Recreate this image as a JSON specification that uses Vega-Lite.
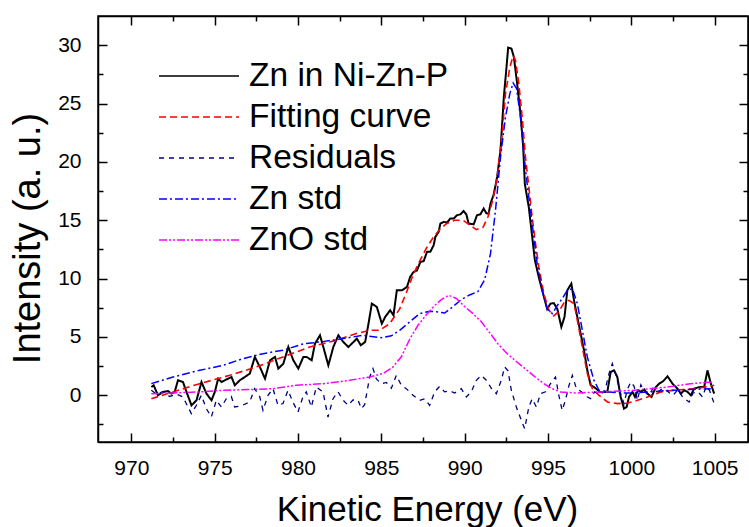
{
  "$schema": "https://vega.github.io/schema/vega-lite/v6.json",
  "width": 650,
  "height": 426,
  "autosize": {"type": "none"},
  "padding": {"left": 98, "top": 16, "right": 1, "bottom": 85},
  "background": "white",
  "config": {
    "view": {"stroke": "black", "strokeWidth": 1.5},
    "font": "Liberation Sans",
    "axis": {"grid": false, "domainColor": "black", "domainWidth": 1.5, "tickColor": "black", "tickWidth": 1.5, "labelColor": "black", "titleColor": "black", "titleFontWeight": "normal", "labelFont": "Liberation Sans", "titleFont": "Liberation Sans", "labelFlush": false, "labelOverlap": false}
  },
  "datasets": {
    "spec": [
      {"s":"exp","E":971.20,"I":0.71},{"s":"exp","E":971.34,"I":0.86},{"s":"exp","E":971.60,"I":0.0},{"s":"exp","E":971.90,"I":0.29},{"s":"exp","E":972.20,"I":0.37},{"s":"exp","E":972.40,"I":0.14},{"s":"exp","E":972.60,"I":0.29},{"s":"exp","E":972.80,"I":1.29},{"s":"exp","E":973.10,"I":1.14},{"s":"exp","E":973.31,"I":0.29},{"s":"exp","E":973.61,"I":-0.86},{"s":"exp","E":973.91,"I":-0.43},{"s":"exp","E":974.21,"I":1.14},{"s":"exp","E":974.51,"I":0.14},{"s":"exp","E":974.81,"I":-0.43},{"s":"exp","E":975.01,"I":0.29},{"s":"exp","E":975.21,"I":1.43},{"s":"exp","E":975.41,"I":1.14},{"s":"exp","E":975.81,"I":1.43},{"s":"exp","E":976.01,"I":1.57},{"s":"exp","E":976.21,"I":0.86},{"s":"exp","E":976.51,"I":1.29},{"s":"exp","E":976.81,"I":1.57},{"s":"exp","E":977.11,"I":1.86},{"s":"exp","E":977.41,"I":3.29},{"s":"exp","E":977.71,"I":2.43},{"s":"exp","E":978.02,"I":1.43},{"s":"exp","E":978.32,"I":3.0},{"s":"exp","E":978.62,"I":3.29},{"s":"exp","E":978.82,"I":2.29},{"s":"exp","E":979.12,"I":2.71},{"s":"exp","E":979.42,"I":4.14},{"s":"exp","E":979.72,"I":3.0},{"s":"exp","E":980.02,"I":2.29},{"s":"exp","E":980.32,"I":3.29},{"s":"exp","E":980.52,"I":3.29},{"s":"exp","E":980.82,"I":3.0},{"s":"exp","E":981.02,"I":4.43},{"s":"exp","E":981.32,"I":5.14},{"s":"exp","E":981.52,"I":4.14},{"s":"exp","E":981.82,"I":2.57},{"s":"exp","E":982.12,"I":4.14},{"s":"exp","E":982.42,"I":5.14},{"s":"exp","E":982.72,"I":4.57},{"s":"exp","E":983.02,"I":4.14},{"s":"exp","E":983.33,"I":4.57},{"s":"exp","E":983.53,"I":4.86},{"s":"exp","E":983.77,"I":4.29},{"s":"exp","E":984.03,"I":4.57},{"s":"exp","E":984.23,"I":6.14},{"s":"exp","E":984.43,"I":7.86},{"s":"exp","E":984.73,"I":7.57},{"s":"exp","E":985.03,"I":6.14},{"s":"exp","E":985.23,"I":6.71},{"s":"exp","E":985.53,"I":7.29},{"s":"exp","E":985.73,"I":6.86},{"s":"exp","E":985.93,"I":9.0},{"s":"exp","E":986.24,"I":9.0},{"s":"exp","E":986.54,"I":9.29},{"s":"exp","E":986.73,"I":10.14},{"s":"exp","E":986.93,"I":10.57},{"s":"exp","E":987.14,"I":10.7},{"s":"exp","E":987.34,"I":11.43},{"s":"exp","E":987.54,"I":11.5},{"s":"exp","E":987.74,"I":12.29},{"s":"exp","E":987.94,"I":12.3},{"s":"exp","E":988.14,"I":12.86},{"s":"exp","E":988.24,"I":13.57},{"s":"exp","E":988.44,"I":14.0},{"s":"exp","E":988.54,"I":14.71},{"s":"exp","E":988.74,"I":14.86},{"s":"exp","E":988.94,"I":14.8},{"s":"exp","E":989.14,"I":15.14},{"s":"exp","E":989.34,"I":15.14},{"s":"exp","E":989.54,"I":15.43},{"s":"exp","E":989.74,"I":15.5},{"s":"exp","E":989.94,"I":15.79},{"s":"exp","E":990.10,"I":15.5},{"s":"exp","E":990.24,"I":14.71},{"s":"exp","E":990.54,"I":14.65},{"s":"exp","E":990.74,"I":15.43},{"s":"exp","E":990.94,"I":15.5},{"s":"exp","E":991.14,"I":16.0},{"s":"exp","E":991.30,"I":15.6},{"s":"exp","E":991.44,"I":15.57},{"s":"exp","E":991.55,"I":16.43},{"s":"exp","E":991.74,"I":17.2},{"s":"exp","E":991.95,"I":18.71},{"s":"exp","E":992.15,"I":21.0},{"s":"exp","E":992.35,"I":25.56},{"s":"exp","E":992.51,"I":28.1},{"s":"exp","E":992.61,"I":29.8},{"s":"exp","E":992.81,"I":29.7},{"s":"exp","E":992.95,"I":29.0},{"s":"exp","E":993.15,"I":26.7},{"s":"exp","E":993.35,"I":24.1},{"s":"exp","E":993.51,"I":21.3},{"s":"exp","E":993.61,"I":18.1},{"s":"exp","E":993.85,"I":16.1},{"s":"exp","E":994.05,"I":13.6},{"s":"exp","E":994.21,"I":11.6},{"s":"exp","E":994.45,"I":10.1},{"s":"exp","E":994.65,"I":9.0},{"s":"exp","E":994.95,"I":7.4},{"s":"exp","E":995.15,"I":7.86},{"s":"exp","E":995.35,"I":7.9},{"s":"exp","E":995.56,"I":7.4},{"s":"exp","E":995.80,"I":5.86},{"s":"exp","E":995.99,"I":6.71},{"s":"exp","E":996.16,"I":9.0},{"s":"exp","E":996.40,"I":9.57},{"s":"exp","E":996.56,"I":8.14},{"s":"exp","E":996.76,"I":6.71},{"s":"exp","E":996.96,"I":5.29},{"s":"exp","E":997.16,"I":3.86},{"s":"exp","E":997.36,"I":2.14},{"s":"exp","E":997.56,"I":0.86},{"s":"exp","E":997.76,"I":0.71},{"s":"exp","E":997.95,"I":0.5},{"s":"exp","E":998.12,"I":0.29},{"s":"exp","E":998.36,"I":0.29},{"s":"exp","E":998.56,"I":0.3},{"s":"exp","E":998.76,"I":2.0},{"s":"exp","E":998.96,"I":2.14},{"s":"exp","E":999.16,"I":1.57},{"s":"exp","E":999.36,"I":-0.14},{"s":"exp","E":999.56,"I":-1.14},{"s":"exp","E":999.72,"I":-1.0},{"s":"exp","E":999.86,"I":-0.14},{"s":"exp","E":1000.07,"I":0.29},{"s":"exp","E":1000.22,"I":-0.14},{"s":"exp","E":1000.40,"I":0.43},{"s":"exp","E":1000.57,"I":0.3},{"s":"exp","E":1000.77,"I":0.5},{"s":"exp","E":1000.97,"I":0.14},{"s":"exp","E":1001.21,"I":-0.14},{"s":"exp","E":1001.47,"I":0.71},{"s":"exp","E":1001.67,"I":1.0},{"s":"exp","E":1001.90,"I":1.2},{"s":"exp","E":1002.17,"I":1.63},{"s":"exp","E":1002.47,"I":1.0},{"s":"exp","E":1002.77,"I":0.57},{"s":"exp","E":1002.97,"I":0.14},{"s":"exp","E":1003.17,"I":0.43},{"s":"exp","E":1003.37,"I":0.3},{"s":"exp","E":1003.57,"I":0.0},{"s":"exp","E":1003.77,"I":0.57},{"s":"exp","E":1004.07,"I":0.7},{"s":"exp","E":1004.37,"I":0.71},{"s":"exp","E":1004.57,"I":2.14},{"s":"exp","E":1004.77,"I":1.0},{"s":"exp","E":1004.97,"I":0.14},

      {"s":"fit","E":971.2,"I":-0.29},{"s":"fit","E":972.5,"I":0.29},{"s":"fit","E":974.1,"I":1.0},{"s":"fit","E":975.9,"I":1.71},{"s":"fit","E":977.5,"I":2.43},{"s":"fit","E":979.1,"I":3.29},{"s":"fit","E":980.7,"I":4.14},{"s":"fit","E":982.3,"I":4.71},{"s":"fit","E":983.5,"I":5.29},{"s":"fit","E":984.3,"I":5.57},{"s":"fit","E":984.9,"I":5.57},{"s":"fit","E":985.5,"I":6.14},{"s":"fit","E":986.1,"I":7.4},{"s":"fit","E":986.5,"I":8.8},{"s":"fit","E":986.9,"I":10.3},{"s":"fit","E":987.3,"I":11.5},{"s":"fit","E":987.7,"I":12.6},{"s":"fit","E":988.1,"I":13.5},{"s":"fit","E":988.5,"I":14.2},{"s":"fit","E":988.9,"I":14.7},{"s":"fit","E":989.4,"I":15.0},{"s":"fit","E":989.9,"I":15.0},{"s":"fit","E":990.3,"I":14.6},{"s":"fit","E":990.7,"I":14.2},{"s":"fit","E":991.1,"I":14.4},{"s":"fit","E":991.4,"I":15.3},{"s":"fit","E":991.7,"I":16.8},{"s":"fit","E":991.95,"I":18.7},{"s":"fit","E":992.25,"I":22.4},{"s":"fit","E":992.45,"I":25.85},{"s":"fit","E":992.71,"I":28.1},{"s":"fit","E":992.91,"I":29.1},{"s":"fit","E":993.05,"I":28.7},{"s":"fit","E":993.25,"I":26.7},{"s":"fit","E":993.45,"I":23.85},{"s":"fit","E":993.65,"I":20.4},{"s":"fit","E":993.85,"I":17.85},{"s":"fit","E":994.05,"I":15.28},{"s":"fit","E":994.25,"I":13.0},{"s":"fit","E":994.45,"I":11.0},{"s":"fit","E":994.75,"I":8.71},{"s":"fit","E":995.05,"I":7.3},{"s":"fit","E":995.35,"I":6.8},{"s":"fit","E":995.65,"I":7.2},{"s":"fit","E":995.95,"I":7.9},{"s":"fit","E":996.25,"I":8.14},{"s":"fit","E":996.56,"I":7.86},{"s":"fit","E":996.76,"I":6.43},{"s":"fit","E":997.06,"I":4.14},{"s":"fit","E":997.36,"I":1.86},{"s":"fit","E":997.66,"I":0.57},{"s":"fit","E":998.06,"I":0.0},{"s":"fit","E":998.56,"I":-0.57},{"s":"fit","E":999.16,"I":-0.71},{"s":"fit","E":999.77,"I":-0.66},{"s":"fit","E":1000.37,"I":-0.43},{"s":"fit","E":1000.97,"I":-0.14},{"s":"fit","E":1001.77,"I":0.29},{"s":"fit","E":1002.37,"I":0.4},{"s":"fit","E":1003.17,"I":0.5},{"s":"fit","E":1003.97,"I":0.6},{"s":"fit","E":1004.97,"I":0.86},

      {"s":"res","E":971.2,"I":0.43},{"s":"res","E":971.5,"I":0.1},{"s":"res","E":971.9,"I":0.3},{"s":"res","E":972.3,"I":-0.1},{"s":"res","E":972.7,"I":0.1},{"s":"res","E":973.1,"I":-0.14},{"s":"res","E":973.4,"I":-1.0},{"s":"res","E":973.6,"I":-1.57},{"s":"res","E":973.9,"I":-0.86},{"s":"res","E":974.2,"I":0.0},{"s":"res","E":974.5,"I":-1.14},{"s":"res","E":974.8,"I":-1.86},{"s":"res","E":975.1,"I":-0.43},{"s":"res","E":975.4,"I":-1.0},{"s":"res","E":975.7,"I":-0.29},{"s":"res","E":976.0,"I":-0.1},{"s":"res","E":976.2,"I":-1.0},{"s":"res","E":976.6,"I":-0.9},{"s":"res","E":977.1,"I":-0.57},{"s":"res","E":977.4,"I":0.57},{"s":"res","E":977.7,"I":-0.1},{"s":"res","E":977.9,"I":-1.29},{"s":"res","E":978.2,"I":0.0},{"s":"res","E":978.5,"I":0.57},{"s":"res","E":978.8,"I":-0.86},{"s":"res","E":979.1,"I":-0.7},{"s":"res","E":979.4,"I":0.43},{"s":"res","E":979.7,"I":-0.6},{"s":"res","E":980.0,"I":-1.43},{"s":"res","E":980.3,"I":-0.1},{"s":"res","E":980.5,"I":0.29},{"s":"res","E":980.8,"I":-1.0},{"s":"res","E":981.1,"I":0.71},{"s":"res","E":981.5,"I":0.3},{"s":"res","E":981.8,"I":-1.86},{"s":"res","E":982.1,"I":-0.29},{"s":"res","E":982.4,"I":0.3},{"s":"res","E":982.7,"I":-0.4},{"s":"res","E":983.0,"I":-0.86},{"s":"res","E":983.3,"I":-0.4},{"s":"res","E":983.6,"I":-0.4},{"s":"res","E":983.8,"I":-1.14},{"s":"res","E":984.0,"I":-0.8},{"s":"res","E":984.3,"I":1.57},{"s":"res","E":984.5,"I":2.29},{"s":"res","E":984.7,"I":1.4},{"s":"res","E":985.0,"I":1.0},{"s":"res","E":985.3,"I":1.1},{"s":"res","E":985.6,"I":0.6},{"s":"res","E":985.9,"I":1.71},{"s":"res","E":986.2,"I":0.86},{"s":"res","E":986.5,"I":0.57},{"s":"res","E":986.9,"I":0.0},{"s":"res","E":987.3,"I":-0.43},{"s":"res","E":987.6,"I":-0.3},{"s":"res","E":987.9,"I":-0.86},{"s":"res","E":988.2,"I":0.3},{"s":"res","E":988.5,"I":0.77},{"s":"res","E":988.8,"I":0.3},{"s":"res","E":989.1,"I":0.4},{"s":"res","E":989.4,"I":0.2},{"s":"res","E":989.8,"I":0.57},{"s":"res","E":990.1,"I":-0.14},{"s":"res","E":990.4,"I":0.3},{"s":"res","E":990.7,"I":1.29},{"s":"res","E":991.0,"I":1.71},{"s":"res","E":991.3,"I":1.29},{"s":"res","E":991.6,"I":0.6},{"s":"res","E":991.9,"I":0.14},{"s":"res","E":992.2,"I":1.3},{"s":"res","E":992.4,"I":2.43},{"s":"res","E":992.6,"I":2.1},{"s":"res","E":992.8,"I":0.43},{"s":"res","E":993.1,"I":-1.0},{"s":"res","E":993.4,"I":-2.14},{"s":"res","E":993.6,"I":-2.86},{"s":"res","E":993.85,"I":-1.0},{"s":"res","E":994.05,"I":-0.3},{"s":"res","E":994.3,"I":-1.0},{"s":"res","E":994.55,"I":0.14},{"s":"res","E":994.85,"I":0.3},{"s":"res","E":995.15,"I":1.0},{"s":"res","E":995.45,"I":1.57},{"s":"res","E":995.65,"I":0.0},{"s":"res","E":995.85,"I":-1.29},{"s":"res","E":996.05,"I":-0.4},{"s":"res","E":996.25,"I":0.8},{"s":"res","E":996.46,"I":1.71},{"s":"res","E":996.7,"I":0.6},{"s":"res","E":997.0,"I":0.3},{"s":"res","E":997.3,"I":-0.1},{"s":"res","E":997.56,"I":-0.29},{"s":"res","E":997.8,"I":0.3},{"s":"res","E":998.1,"I":0.1},{"s":"res","E":998.4,"I":0.3},{"s":"res","E":998.66,"I":1.86},{"s":"res","E":998.86,"I":2.71},{"s":"res","E":999.06,"I":1.8},{"s":"res","E":999.36,"I":0.14},{"s":"res","E":999.56,"I":-0.71},{"s":"res","E":999.76,"I":0.5},{"s":"res","E":999.96,"I":1.14},{"s":"res","E":1000.16,"I":0.8},{"s":"res","E":1000.37,"I":-0.43},{"s":"res","E":1000.57,"I":0.9},{"s":"res","E":1000.8,"I":0.3},{"s":"res","E":1001.06,"I":0.0},{"s":"res","E":1001.3,"I":0.6},{"s":"res","E":1001.6,"I":0.3},{"s":"res","E":1001.9,"I":0.6},{"s":"res","E":1002.2,"I":0.3},{"s":"res","E":1002.5,"I":0.0},{"s":"res","E":1002.8,"I":0.5},{"s":"res","E":1003.1,"I":-0.2},{"s":"res","E":1003.47,"I":-0.57},{"s":"res","E":1003.7,"I":0.2},{"s":"res","E":1004.0,"I":0.3},{"s":"res","E":1004.27,"I":-0.14},{"s":"res","E":1004.5,"I":0.8},{"s":"res","E":1004.7,"I":0.4},{"s":"res","E":1004.97,"I":-0.71},

      {"s":"zn","E":971.2,"I":1.0},{"s":"zn","E":972.5,"I":1.57},{"s":"zn","E":974.1,"I":2.14},{"s":"zn","E":975.5,"I":2.57},{"s":"zn","E":976.7,"I":3.14},{"s":"zn","E":977.9,"I":3.57},{"s":"zn","E":979.1,"I":3.86},{"s":"zn","E":980.3,"I":4.4},{"s":"zn","E":981.5,"I":4.6},{"s":"zn","E":982.7,"I":4.86},{"s":"zn","E":983.9,"I":5.14},{"s":"zn","E":985.0,"I":4.94},{"s":"zn","E":985.6,"I":5.1},{"s":"zn","E":986.1,"I":5.57},{"s":"zn","E":986.7,"I":6.29},{"s":"zn","E":987.3,"I":7.0},{"s":"zn","E":987.9,"I":7.2},{"s":"zn","E":988.3,"I":7.15},{"s":"zn","E":988.8,"I":7.05},{"s":"zn","E":989.3,"I":7.6},{"s":"zn","E":989.8,"I":8.2},{"s":"zn","E":990.3,"I":8.6},{"s":"zn","E":990.8,"I":8.9},{"s":"zn","E":991.2,"I":9.9},{"s":"zn","E":991.55,"I":12.14},{"s":"zn","E":991.85,"I":15.85},{"s":"zn","E":992.15,"I":20.4},{"s":"zn","E":992.45,"I":23.85},{"s":"zn","E":992.71,"I":25.85},{"s":"zn","E":992.91,"I":26.76},{"s":"zn","E":993.11,"I":26.3},{"s":"zn","E":993.35,"I":23.85},{"s":"zn","E":993.55,"I":20.7},{"s":"zn","E":993.75,"I":18.1},{"s":"zn","E":993.95,"I":15.85},{"s":"zn","E":994.15,"I":13.57},{"s":"zn","E":994.35,"I":11.28},{"s":"zn","E":994.65,"I":9.0},{"s":"zn","E":994.95,"I":7.4},{"s":"zn","E":995.26,"I":7.0},{"s":"zn","E":995.56,"I":7.7},{"s":"zn","E":995.86,"I":8.3},{"s":"zn","E":996.16,"I":9.0},{"s":"zn","E":996.46,"I":9.14},{"s":"zn","E":996.76,"I":7.86},{"s":"zn","E":997.06,"I":5.57},{"s":"zn","E":997.36,"I":3.28},{"s":"zn","E":997.76,"I":1.28},{"s":"zn","E":998.06,"I":0.43},{"s":"zn","E":998.56,"I":0.29},{"s":"zn","E":999.36,"I":0.2},{"s":"zn","E":1000.16,"I":0.2},{"s":"zn","E":1001.15,"I":0.3},{"s":"zn","E":1002.37,"I":0.43},{"s":"zn","E":1003.5,"I":0.5},{"s":"zn","E":1004.77,"I":0.57},

      {"s":"zno","E":971.2,"I":0.14},{"s":"zno","E":972.5,"I":0.2},{"s":"zno","E":974.1,"I":0.29},{"s":"zno","E":975.5,"I":0.43},{"s":"zno","E":977.1,"I":0.49},{"s":"zno","E":978.5,"I":0.57},{"s":"zno","E":979.9,"I":0.86},{"s":"zno","E":981.5,"I":1.0},{"s":"zno","E":983.1,"I":1.29},{"s":"zno","E":984.3,"I":1.57},{"s":"zno","E":985.1,"I":1.86},{"s":"zno","E":985.7,"I":2.43},{"s":"zno","E":986.2,"I":3.3},{"s":"zno","E":986.7,"I":4.8},{"s":"zno","E":987.2,"I":6.0},{"s":"zno","E":987.7,"I":6.9},{"s":"zno","E":988.2,"I":7.7},{"s":"zno","E":988.6,"I":8.2},{"s":"zno","E":989.04,"I":8.57},{"s":"zno","E":989.5,"I":8.3},{"s":"zno","E":990.0,"I":7.6},{"s":"zno","E":990.5,"I":7.0},{"s":"zno","E":991.0,"I":6.3},{"s":"zno","E":991.55,"I":5.28},{"s":"zno","E":992.0,"I":4.4},{"s":"zno","E":992.55,"I":3.57},{"s":"zno","E":993.1,"I":2.9},{"s":"zno","E":993.75,"I":2.14},{"s":"zno","E":994.2,"I":1.6},{"s":"zno","E":994.75,"I":1.0},{"s":"zno","E":995.2,"I":0.6},{"s":"zno","E":995.75,"I":0.29},{"s":"zno","E":996.76,"I":0.2},{"s":"zno","E":998.16,"I":0.29},{"s":"zno","E":1000.16,"I":0.43},{"s":"zno","E":1002.17,"I":0.71},{"s":"zno","E":1003.55,"I":1.0},{"s":"zno","E":1004.88,"I":1.14}
    ]
  },
  "data": {"name": "spec"},
  "layer": [
    {
      "encoding": {
        "x": {"field": "E", "type": "quantitative", "scale": {"domain": [968, 1007], "nice": false, "zero": false},
          "axis": {"orient": "bottom", "values": [970, 972.5, 975, 977.5, 980, 982.5, 985, 987.5, 990, 992.5, 995, 997.5, 1000, 1002.5, 1005],
            "format": "d",
            "labelExpr": "datum.value % 5 === 0 ? datum.label : ''",
            "tickSize": {"condition": {"test": "datum.value % 5 === 0", "value": -9}, "value": -5},
            "labelPadding": 24, "labelFontSize": 21,
            "title": "Kinetic Energy (eV)", "titleFontSize": 35, "titleX": 329, "titleY": 78, "titleBaseline": "alphabetic", "titleAnchor": "middle", "titleAlign": "center"}},
        "y": {"field": "I", "type": "quantitative", "scale": {"domain": [-4, 32.5], "nice": false, "zero": false},
          "axis": {"orient": "left", "values": [-2.5, 0, 2.5, 5, 7.5, 10, 12.5, 15, 17.5, 20, 22.5, 25, 27.5, 30],
            "labelExpr": "datum.value % 5 === 0 ? datum.label : ''",
            "tickSize": {"condition": {"test": "datum.value % 5 === 0", "value": -9}, "value": -5},
            "labelPadding": 26, "labelFontSize": 21,
            "title": "Intensity (a. u.)", "titleFontSize": 38, "titleAngle": -90, "titleX": -59, "titleY": 222, "titleBaseline": "alphabetic", "titleAlign": "center"}},
        "color": {"field": "s", "type": "nominal",
          "scale": {"domain": ["exp", "fit", "res", "zn", "zno"], "range": ["#000000", "#FF0000", "#000080", "#0000FF", "#FF00FF"]},
          "legend": {"orient": "none", "legendX": 80, "legendY": 39, "title": null, "symbolType": "M-2,0H2", "symbolSize": 1600, "symbolStrokeWidth": 1.5, "labelFontSize": 33.5, "labelFont": "Liberation Sans", "labelColor": "black", "labelOffset": 29, "rowPadding": 3, "padding": 0, "labelLimit": 400,
            "labelExpr": "datum.label === 'exp' ? 'Zn in Ni-Zn-P' : datum.label === 'fit' ? 'Fitting curve' : datum.label === 'res' ? 'Residuals' : datum.label === 'zn' ? 'Zn std' : 'ZnO std'"}},
        "strokeDash": {"field": "s", "type": "nominal",
          "scale": {"domain": ["exp", "fit", "res", "zn", "zno"], "range": [[1, 0], [7, 4], [5, 5], [8, 3, 2, 3], [8, 2, 2, 2, 2, 2]]},
          "legend": {"orient": "none", "legendX": 80, "legendY": 39, "title": null, "symbolType": "M-2,0H2", "symbolSize": 1600, "symbolStrokeWidth": 1.5, "labelFontSize": 33.5, "labelFont": "Liberation Sans", "labelColor": "black", "labelOffset": 29, "rowPadding": 3, "padding": 0, "labelLimit": 400,
            "labelExpr": "datum.label === 'exp' ? 'Zn in Ni-Zn-P' : datum.label === 'fit' ? 'Fitting curve' : datum.label === 'res' ? 'Residuals' : datum.label === 'zn' ? 'Zn std' : 'ZnO std'"}}
      },
      "layer": [
        {"transform": [{"filter": "datum.s === 'exp'"}], "mark": {"type": "line", "strokeWidth": 2}},
        {"transform": [{"filter": "datum.s === 'fit'"}], "mark": {"type": "line", "strokeWidth": 1.6}},
        {"transform": [{"filter": "datum.s === 'res'"}], "mark": {"type": "line", "strokeWidth": 1.3}},
        {"transform": [{"filter": "datum.s === 'zn'"}], "mark": {"type": "line", "strokeWidth": 1.5}},
        {"transform": [{"filter": "datum.s === 'zno'"}], "mark": {"type": "line", "strokeWidth": 1.5}}
      ]
    },
    {
      "transform": [{"filter": "datum.s === 'exp'"}],
      "mark": {"type": "point", "opacity": 0},
      "encoding": {
        "x": {"field": "E", "type": "quantitative", "scale": {"domain": [968, 1007], "nice": false, "zero": false},
          "axis": {"orient": "top", "values": [970, 972.5, 975, 977.5, 980, 982.5, 985, 987.5, 990, 992.5, 995, 997.5, 1000, 1002.5, 1005], "labels": false, "title": null,
            "tickSize": {"condition": {"test": "datum.value % 5 === 0", "value": -9}, "value": -5}}},
        "y": {"field": "I", "type": "quantitative", "scale": {"domain": [-4, 32.5], "nice": false, "zero": false},
          "axis": {"orient": "right", "values": [-2.5, 0, 2.5, 5, 7.5, 10, 12.5, 15, 17.5, 20, 22.5, 25, 27.5, 30], "labels": false, "title": null,
            "tickSize": {"condition": {"test": "datum.value % 5 === 0", "value": -9}, "value": -5}}}
      }
    }
  ],
  "resolve": {"axis": {"x": "independent", "y": "independent"}}
}
